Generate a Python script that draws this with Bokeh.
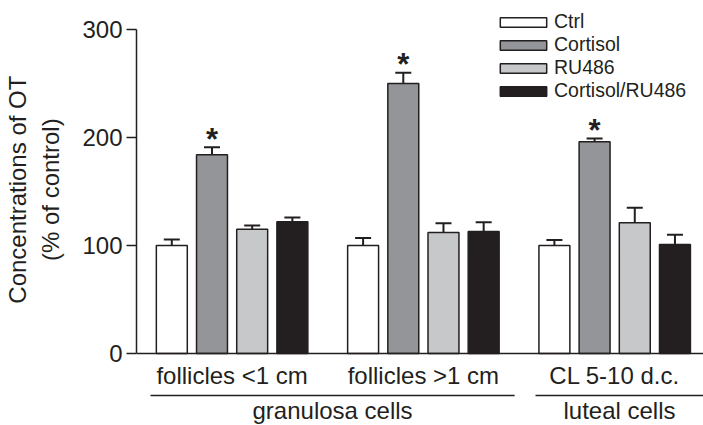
from bokeh.plotting import figure
from bokeh.models import (Range1d, FixedTicker, Span, Whisker, ColumnDataSource,
                          Legend, LegendItem, TeeHead)
from bokeh.core.properties import value
from bokeh.embed import file_html
from bokeh.resources import INLINE

# ---------------- data ----------------
groups = ["follicles <1 cm", "follicles >1 cm", "CL 5-10 d.c."]
treatments = ["Ctrl", "Cortisol", "RU486", "Cortisol/RU486"]
ctrl_mean = [100, 100, 100]
cortisol_mean = [184, 250, 196]
ru486_mean = [115, 112, 121]
combo_mean = [122, 113, 101]
ctrl_sem = [5.5, 7, 5]
cortisol_sem = [7, 10, 3]
ru486_sem = [3.5, 8.5, 14]
combo_sem = [4, 8.5, 9]
significant = ["*", "*", "*"]          # Cortisol vs control
sections = ["granulosa cells", "luteal cells"]
section_groups = [[0, 1], [2]]
y_ticks = [0, 100, 200, 300]
y_label_lines = ["Concentrations of OT", "(% of control)"]

# ---------------- style ----------------
INK = "#231f20"
fills = ["#ffffff", "#939598", "#c7c8ca", "#231f20"]
FONT = "Liberation Sans"
GROUP_PITCH = 4.76
BAR_W = 0.77
PX_PER_X = 40.4
PX_PER_Y = 1.08

W, H = 703, 425
LEFT = 133
ZERO_PX = 353               # figure-y of value 0

def yval(fig_px):
    return (ZERO_PX - fig_px) / PX_PER_Y

x0 = -35.5 / PX_PER_X
x_end = x0 + (W - LEFT) / PX_PER_X
p = figure(width=W, height=H, output_backend="svg", toolbar_location=None,
           x_range=Range1d(x0, x_end),
           y_range=Range1d(yval(H), yval(0)),
           x_axis_location=None, min_border=0, min_border_left=LEFT,
           min_border_right=0, min_border_top=0, min_border_bottom=0)
p.outline_line_color = None
p.grid.visible = False
p.background_fill_color = None
p.border_fill_color = "white"

means = [ctrl_mean, cortisol_mean, ru486_mean, combo_mean]
sems = [ctrl_sem, cortisol_sem, ru486_sem, combo_sem]

items = []
for b, (name, m, s) in enumerate(zip(treatments, means, sems)):
    xs = [g * GROUP_PITCH + b for g in range(len(groups))]
    src = ColumnDataSource(dict(x=xs, top=m, up=[a + e for a, e in zip(m, s)]))
    r = p.vbar(x="x", top="top", width=BAR_W, bottom=0, source=src,
               fill_color=fills[b], line_color=INK, line_width=1.5)
    items.append(LegendItem(label=name, renderers=[r]))
    w = Whisker(base="x", lower="top", upper="up", source=src, dimension="height",
                line_color=INK, line_width=2,
                upper_head=TeeHead(size=16, line_color=INK, line_width=2),
                lower_head=None)
    p.add_layout(w)
    if name == "Cortisol":
        stars = ColumnDataSource(dict(x=xs, y=src.data["up"], t=significant))
        p.text(x="x", y="y", text="t", source=stars, text_align="center",
               text_baseline="alphabetic", y_offset=-8, text_font=value(FONT),
               text_font_size="31px", text_font_style="bold", text_color=INK)

# x axis line
p.add_layout(Span(location=0, dimension="width", line_color=INK, line_width=1.5))

# group labels
gx = [g * GROUP_PITCH + 1.5 for g in range(len(groups))]
p.text(x=gx, y=[yval(375)] * len(gx), text=groups, text_align="center",
       text_baseline="alphabetic", text_font=value(FONT), text_font_size="24px",
       text_color=INK)

# section underlines and labels
sx0, sx1, scx = [], [], []
for i, gs in enumerate(section_groups):
    first = gs[0] * GROUP_PITCH
    last = gs[-1] * GROUP_PITCH + 3
    a = first - (0.53 if i == 0 else 0.47)
    bnd = last + (0.77 if i == 0 else 1.5)
    sx0.append(a)
    sx1.append(bnd)
    scx.append((a + min(bnd, x_end)) / 2)
p.segment(x0=sx0, x1=sx1, y0=[yval(395)] * 2, y1=[yval(395)] * 2,
          line_color=INK, line_width=1.5)
p.text(x=scx, y=[yval(410)] * 2, text=sections, text_align="center",
       text_baseline="alphabetic", text_font=value(FONT), text_font_size="24px",
       text_color=INK)

# y axis
ax = p.yaxis[0]
ax.ticker = FixedTicker(ticks=y_ticks)
ax.bounds = (0, 300)
ax.minor_tick_line_color = None
ax.major_tick_out = 10
ax.major_tick_in = 0
ax.major_tick_line_width = 1.5
ax.major_tick_line_color = INK
ax.axis_line_width = 1.5
ax.axis_line_color = INK
ax.major_label_standoff = 4
ax.major_label_text_font = FONT
ax.major_label_text_font_size = "24px"
ax.major_label_text_color = INK
# the title is centred on the whole frame; lead it with non-breaking spaces
# so that it sits centred beside the 0-300 part of the axis
pad = "\u00a0" * 7
ax.axis_label = "\n".join(pad + t for t in y_label_lines)
ax.axis_label_text_font = FONT
ax.axis_label_text_font_size = "24px"
ax.axis_label_text_font_style = "normal"
ax.axis_label_text_color = INK
ax.axis_label_standoff = 15
ax.axis_label_text_line_height = 1.25

legend = Legend(items=items, location=(358, 323), padding=0, margin=0,
                spacing=-2, glyph_width=58, glyph_height=12, label_height=20,
                label_standoff=2, label_text_font=FONT,
                label_text_font_size="19.5px", label_text_color=INK,
                border_line_color=None, background_fill_alpha=0)
p.add_layout(legend)

open("out.html", "w").write(file_html(p, INLINE))
